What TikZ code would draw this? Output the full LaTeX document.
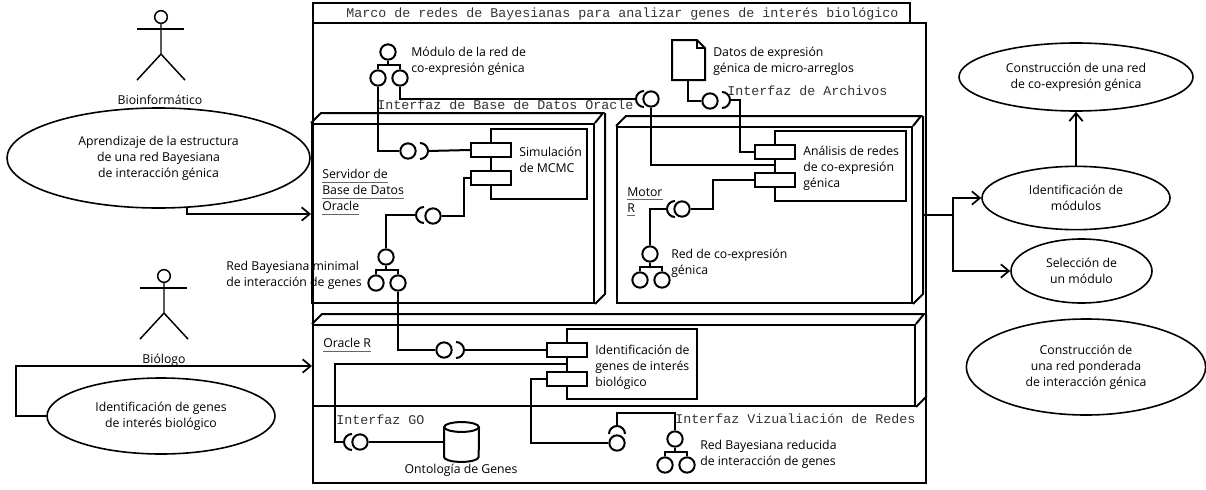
\documentclass[tikz,border=0pt]{standalone}
\usepackage{fontspec}
\setmainfont{Open Sans}
\setmonofont{Liberation Mono}
\usetikzlibrary{positioning,arrows.meta,shapes.geometric,calc}
\tikzset{
  wire/.style={
    line width=1.5pt,
    draw=black
  },
  wirearrow/.style={
    wire,
    -{Straight Barb[length=6pt,width=10pt,line width=1.3pt]}
  },
  frontbox/.style={
    rectangle,
    wire,
    inner sep=0pt
  },
  portbox/.style={
    frontbox,
    fill=white,
    minimum width=30pt,
    minimum height=10.5pt
  },
  lolli/.style={
    circle,
    wire,
    fill=white,
    inner sep=0pt,
    minimum size=11.5pt
  },
  usecase/.style={
    ellipse,
    wire,
    line width=1.2pt,
    inner sep=0pt,
    align=center,
    font=\fontsize{9.2}{12}\selectfont
  },
  txtlabel/.style={
    anchor=west,
    inner sep=0pt,
    align=left,
    font=\fontsize{9.2}{12}\selectfont
  },
  midlabel/.style={
    inner sep=0pt,
    align=center,
    font=\fontsize{9.2}{12}\selectfont
  },
  monolabel/.style={
    anchor=west,
    inner sep=0pt,
    text=black!80,
    font=\ttfamily\fontsize{10}{12}\selectfont
  }
}
\newcommand{\ulab}[1]{\textcolor{black!60}{\underline{\rule[-1pt]{0pt}{1pt}\textcolor{black}{#1}}}}
% socket opening, tip at the named coordinate
\newcommand{\socket}[2]{\draw[wire] (#1) arc[start angle=#2,delta angle=90,radius=6pt] (#1) arc[start angle=#2,delta angle=-90,radius=6pt];}
% three circle icon
\newcommand{\triicon}[3]{
  \node (#1t) [lolli] at (#2,#3) {};
  \node (#1l) [lolli] at (#2-10,#3+26) {};
  \node (#1r) [lolli] at (#2+12,#3+26) {};
  \draw[wire] (#1t.south) -- ++(0,-3.5pt) coordinate (#1b);
  \draw[wire] (#1l.north) -- (#1l.north |- #1b) -- (#1r.north |- #1b) -- (#1r.north);
}
% actor figure
\newcommand{\actor}[3]{
  \node (#1) [circle,wire,line width=1.1pt,inner sep=0pt,minimum size=9.5pt] at (#2,#3) {};
  \draw[wire,line width=1.1pt] (#1.south) -- ++(0,-22.5pt) coordinate (#1hip) -- ++(-18pt,-19.5pt);
  \draw[wire,line width=1.1pt] (#1hip) -- ++(18pt,-19.5pt);
  \draw[wire,line width=1.1pt] ($(#1)+(-24,12)$) -- ($(#1)+(23,12)$);
}
\begin{document}
\begin{tikzpicture}[x=0.75pt,y=-0.75pt]
  \useasboundingbox (0,0) rectangle (1206,489);

  % outer frame
  \node (frame) [frontbox,minimum width=459.75pt,minimum height=345pt] at (619.5,253) {};
  \node (tab) [frontbox,minimum width=447.75pt,minimum height=15pt] at (611.5,13) {};
  \node (title) [monolabel] at (346,14) {Marco de redes de Bayesianas para analizar genes de interés biológico};

  % server, motor and oracle blocks
  \node (server) [frontbox,minimum width=211.5pt,minimum height=134.25pt] at (453,213.5) {};
  \draw[wire] (server.north west) -- ++(7.5pt,7.5pt) -- ++(211.5pt,0pt) -- (server.north east);
  \draw[wire] ([shift={(7.5pt,7.5pt)}]server.north east) -- ([shift={(7.5pt,7.5pt)}]server.south east) -- (server.south east);
  \node (motor) [frontbox,minimum width=221.25pt,minimum height=132pt] at (764.5,215) {};
  \draw[wire] (motor.north west) -- ++(7.5pt,7.5pt) -- ++(221.25pt,0pt) -- (motor.north east);
  \draw[wire] ([shift={(7.5pt,7.5pt)}]motor.north east) -- ([shift={(7.5pt,7.5pt)}]motor.south east) -- (motor.south east);
  \node (oracle) [frontbox,minimum width=451.5pt,minimum height=60.75pt] at (614,365.5) {};
  \draw[wire] (oracle.north west) -- ++(7.5pt,7.5pt) -- ++(451.5pt,0pt) -- (oracle.north east);
  \draw[wire] ([shift={(7.5pt,7.5pt)}]oracle.north east) -- ([shift={(7.5pt,7.5pt)}]oracle.south east) -- (oracle.south east);

  % components
  \node (sim) [frontbox,minimum width=72pt,minimum height=52.5pt] at (539,164) {};
  \node (simA) [portbox] at (491,150) {};
  \node (simB) [portbox] at (491,178) {};
  \node (ana) [frontbox,minimum width=98.25pt,minimum height=52.5pt] at (840.5,166) {};
  \node (anaA) [portbox] at (775,152) {};
  \node (anaB) [portbox] at (775,179.5) {};
  \node (ide) [frontbox,minimum width=97.5pt,minimum height=52.5pt] at (632,364) {};
  \node (ideA) [portbox] at (567,350) {};
  \node (ideB) [portbox] at (567,379) {};

  % icons
  \triicon{modred}{388}{52}
  \triicon{minred}{386}{257}
  \triicon{coex}{650}{254}
  \triicon{redu}{675}{439}

  % interfaces
  \node (lolA) [lolli] at (408,151) {};
  \coordinate (sockA) at (428,151); \socket{sockA}{0}
  \node (lolB) [lolli] at (433,216) {};
  \coordinate (sockB) at (416,215); \socket{sockB}{180}
  \node (lolC) [lolli] at (651,99) {};
  \coordinate (sockC) at (636,99); \socket{sockC}{180}
  \node (lolD) [lolli] at (710,101) {};
  \coordinate (sockD) at (730,100); \socket{sockD}{0}
  \node (lolE) [lolli] at (682,209) {};
  \coordinate (sockE) at (667,209); \socket{sockE}{180}
  \node (lolF) [lolli] at (444,350) {};
  \coordinate (sockF) at (464,350); \socket{sockF}{0}
  \node (lolG) [lolli] at (360,442) {};
  \coordinate (sockG) at (344,442); \socket{sockG}{180}
  \node (lolH) [lolli] at (617,443) {};
  \coordinate (sockH) at (617,426); \socket{sockH}{90}

  % data file
  \draw[wire,fill=white] (672,40) -- (697,40) -- (705,48) -- (705,80) -- (672,80) -- cycle;
  \coordinate (datos) at (688,80);
  \draw[wire,line width=1pt] (697,40) -- (697,48) -- (705,48);

  % gene ontology store
  \coordinate (onto) at (444,442);
  \draw[wire,fill=white] (444,427) -- (444,457) arc[start angle=180,end angle=360,x radius=13pt,y radius=3.7pt] -- (479,427);
  \draw[wire,fill=white] (461.5,427) ellipse[x radius=13pt,y radius=3.7pt];

  % connectors
  \draw[wire] (modredl.south) -- (modredl.south |- lolA) -- (lolA.west);
  \draw[wire] (sockA) -- (simA.west);
  \draw[wire] (modredr.south) -- (modredr.south |- sockC) -- (sockC);
  \draw[wire] (lolC.south) -- (lolC.south |- 0,165) -- (775,165);
  \draw[wire] (lolB.east) -- ++(16.5pt,0pt) |- (simB.west);
  \draw[wire] (minredt.north) -- (minredt.north |- sockB) -- (sockB);
  \draw[wire] (datos) -- (datos |- lolD.west) -- (lolD.west);
  \draw[wire] (sockD) -- (740,100) |- (anaA.west);
  \draw[wire] (lolE.east) -- ++(17pt,0pt) |- (anaB.west);
  \draw[wire] (coext.north) -- (coext.north |- sockE) -- (sockE);
  \draw[wire] (minredr.south) -- (minredr.south |- sockF) -- (sockF -| lolF.west);
  \draw[wire] (sockF) -- (ideA.west);
  \draw[wire] (sockG) -- (335,442) -- (335,364) -- (567,364);
  \draw[wire] (lolG.east) -- (onto);
  \draw[wire] (ideB.west) -- (531,379) |- (lolH.west);
  \draw[wire] (sockH) -- (617,413) -| (redut.north);

  % actors
  \actor{bioinf}{161}{17}
  \actor{biolog}{164}{276}
  \node (bioinflab) [midlabel] at (160,100) {Bioinformático};
  \node (biologlab) [midlabel] at (164,360) {Biólogo};

  % use cases
  \node (ucA) [usecase,minimum width=227.25pt,minimum height=75pt] at (158.5,158) {Aprendizaje de la estructura\\de una red Bayesiana\\de interacción génica};
  \node (ucB) [usecase,minimum width=171pt,minimum height=57pt] at (161,416) {Identificación de genes\\de interés biológico};
  \node (ucC) [usecase,minimum width=175.5pt,minimum height=51pt] at (1076,77) {Construcción de una red\\de co-expresión génica};
  \node (ucD) [usecase,minimum width=141pt,minimum height=47.5pt] at (1076,198) {Identificación de\\módulos};
  \node (ucE) [usecase,minimum width=105.75pt,minimum height=48pt] at (1081.5,271) {Selección de\\un módulo};
  \node (ucF) [usecase,minimum width=179.5pt,minimum height=72pt] at (1086,367) {Construcción de\\una red ponderada\\de interacción génica};

  \draw[wirearrow] (187,208) -- (187,214) -- (server.west |- 0,214);
  \draw[wirearrow] (ucB.west) -- (16,416) -- (16,366) -- (oracle.west |- 0,366);
  \coordinate (split) at (953,215);
  \draw[wire] (923,215) -- (split);
  \draw[wirearrow] (split) |- (ucD.west);
  \draw[wirearrow] (split) |- (ucE.west);
  \draw[wirearrow] (ucD.north) -- (ucC.south);

  % labels
  \node (servlab) [txtlabel] at (322,192) {\ulab{Servidor de}\\\ulab{Base de Datos}\\\ulab{Oracle}};
  \node (motlab) [txtlabel] at (627,202) {\ulab{Motor}\\\ulab{R}};
  \node (orclab) [txtlabel] at (323,345) {\ulab{Oracle R}};
  \node (modlab) [txtlabel] at (411,61) {Módulo de la red de\\co-expresión génica};
  \node (datlab) [txtlabel] at (713,61) {Datos de expresión\\génica de micro-arreglos};
  \node (simlab) [txtlabel] at (519,160) {Simulación\\de MCMC};
  \node (analab) [txtlabel] at (803,168) {Análisis de redes\\de co-expresión\\génica};
  \node (coexlab) [txtlabel] at (671,263) {Red de co-expresión\\génica};
  \node (minlab) [txtlabel] at (226,275) {Red Bayesiana minimal\\de interacción de genes};
  \node (idelab) [txtlabel] at (595,367) {Identificación de\\genes de interés\\biológico};
  \node (redulab) [txtlabel] at (700,454) {Red Bayesiana reducida\\de interacción de genes};
  \node (ontolab) [midlabel] at (461,470) {Ontología de Genes};
  \node (ifdb) [monolabel] at (377,105) {Interfaz de Base de Datos Oracle};
  \node (ifarch) [monolabel] at (727,91) {Interfaz de Archivos};
  \node (ifgo) [monolabel] at (336,420) {Interfaz GO};
  \node (ifviz) [monolabel] at (675,419) {Interfaz Vizualiación de Redes};
\end{tikzpicture}
\end{document}
